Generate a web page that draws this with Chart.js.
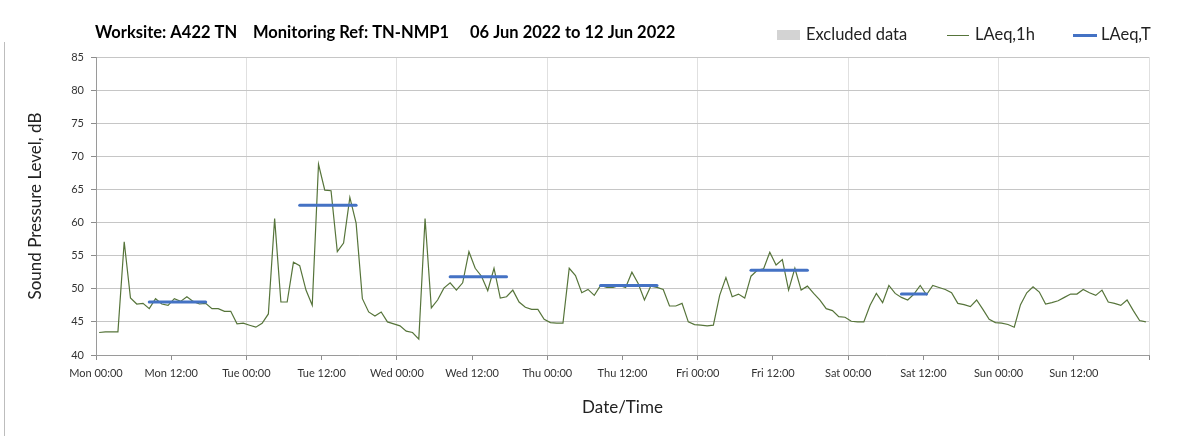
<!DOCTYPE html>
<html>
<head>
<meta charset="utf-8">
<script src="https://cdn.jsdelivr.net/npm/chart.js@4.4.1/dist/chart.umd.min.js"></script>
<style>
  html, body { margin: 0; padding: 0; background: #fff; }
  #wrap { width: 1203px; height: 436px; position: relative; }
</style>
</head>
<body>
<div id="wrap"><canvas id="noiseChart" width="1203" height="436"></canvas></div>
<script>
// Stündliche Werte LAeq,1h (dB), je Tag 24 Werte ab 00:00
const monValues = [43.4, 43.5, 43.5, 43.5, 57.1, 48.6, 47.7, 47.8, 47.0, 48.5, 47.7, 47.5, 48.5, 48.1, 48.8, 48.1, 47.7, 47.8, 47.0, 47.0, 46.6, 46.6, 44.7, 44.8];
const tueValues = [44.5, 44.2, 44.8, 46.2, 60.6, 48.0, 48.0, 54.0, 53.5, 49.8, 47.5, 68.8, 64.9, 64.8, 55.6, 56.9, 63.8, 59.9, 48.5, 46.5, 45.9, 46.5, 45.0, 44.7];
const wedValues = [44.4, 43.6, 43.4, 42.4, 60.6, 47.1, 48.3, 50.1, 50.9, 49.8, 50.9, 55.6, 53.1, 51.9, 49.7, 53.1, 48.6, 48.8, 49.8, 48.0, 47.2, 46.9, 46.9, 45.4];
const thuValues = [44.9, 44.8, 44.8, 53.1, 52.0, 49.4, 49.9, 49.0, 50.5, 50.2, 50.2, 50.5, 50.2, 52.5, 50.8, 48.3, 50.4, 50.2, 49.9, 47.4, 47.4, 47.8, 45.0, 44.6];
const friValues = [44.5, 44.4, 44.5, 49.0, 51.7, 48.8, 49.2, 48.6, 51.9, 52.8, 53.0, 55.5, 53.6, 54.4, 49.8, 53.1, 49.8, 50.4, 49.3, 48.3, 47.0, 46.7, 45.8, 45.7];
const satValues = [45.1, 45.0, 45.0, 47.5, 49.3, 47.9, 50.5, 49.3, 48.7, 48.3, 49.2, 50.5, 49.1, 50.5, 50.2, 49.9, 49.4, 47.8, 47.6, 47.3, 48.3, 46.9, 45.4, 44.9];
const sunValues = [44.8, 44.6, 44.2, 47.6, 49.4, 50.3, 49.5, 47.7, 47.9, 48.2, 48.7, 49.2, 49.2, 49.9, 49.4, 49.0, 49.8, 48.0, 47.8, 47.5, 48.3, 46.7, 45.2, 45.0];

// LAeq,T je Arbeitszeitraum: Tag (0 = Mo), erste und letzte Stunde, Pegel
const periodDays   = [0, 1, 2, 3, 4, 5];
const periodFirst  = [8, 8, 8, 8, 8, 8];
const periodLast   = [17, 17, 17, 17, 17, 12];
const periodValues = [48.0, 62.6, 51.8, 50.5, 52.8, 49.2];

// Achsenbeschriftungen
const xTickLabels = ['Mon 00:00', 'Mon 12:00', 'Tue 00:00', 'Tue 12:00', 'Wed 00:00', 'Wed 12:00', 'Thu 00:00',
  'Thu 12:00', 'Fri 00:00', 'Fri 12:00', 'Sat 00:00', 'Sat 12:00', 'Sun 00:00', 'Sun 12:00'];
const yTicks = [40, 45, 50, 55, 60, 65, 70, 75, 80, 85];

const dayValues = [monValues, tueValues, wedValues, thuValues, friValues, satValues, sunValues];

// Punkte für LAeq,1h (Stundenmitte)
const hourlyPoints = [];
dayValues.forEach((values, day) => {
  values.forEach((v, hour) => {
    hourlyPoints.push({ x: day * 24 + hour + 0.5, y: v });
  });
});

// Je Zeitraum eine waagrechte Linie
const periodSets = periodDays.map((day, i) => ({
  label: 'LAeq,T',
  data: [
    { x: day * 24 + periodFirst[i] + 0.5, y: periodValues[i] },
    { x: day * 24 + periodLast[i] + 0.5, y: periodValues[i] }
  ],
  borderColor: '#4472c4',
  borderWidth: 3,
  borderCapStyle: 'round',
  pointRadius: 0,
  order: 0
}));

const fontFamily = 'Lato, "Open Sans", sans-serif';

// Titel, Legende und Rahmen selbst zeichnen
const headerPlugin = {
  id: 'header',
  afterDraw(chart) {
    const ctx = chart.ctx;
    ctx.save();
    ctx.strokeStyle = '#bdbdbd';
    ctx.lineWidth = 1;
    ctx.beginPath();
    ctx.moveTo(4.5, 42);
    ctx.lineTo(4.5, 436);
    ctx.stroke();

    ctx.fillStyle = '#000';
    ctx.textBaseline = 'middle';
    ctx.font = 'bold 16.5px ' + fontFamily;
    ctx.fillText('Worksite: A422 TN', 95, 33);
    ctx.fillText('Monitoring Ref: TN-NMP1', 253, 33);
    ctx.fillText('06 Jun 2022 to 12 Jun 2022', 470, 33);

    ctx.font = '16.5px ' + fontFamily;
    ctx.fillStyle = '#d3d3d3';
    ctx.fillRect(777, 30, 23, 10);
    ctx.fillStyle = '#222';
    ctx.fillText('Excluded data', 806, 35);

    ctx.strokeStyle = '#56743a';
    ctx.lineWidth = 1;
    ctx.beginPath();
    ctx.moveTo(947, 35.5);
    ctx.lineTo(969, 35.5);
    ctx.stroke();
    ctx.fillText('LAeq,1h', 975, 35);

    ctx.strokeStyle = '#4472c4';
    ctx.lineWidth = 3;
    ctx.beginPath();
    ctx.moveTo(1073, 35.5);
    ctx.lineTo(1097, 35.5);
    ctx.stroke();
    ctx.fillText('LAeq,T', 1101, 35);
    ctx.restore();
  }
};

const ctx = document.getElementById('noiseChart').getContext('2d');

const config = {
  type: 'line',
  data: {
    datasets: [
      {
        label: 'LAeq,1h',
        data: hourlyPoints,
        borderColor: '#56743a',
        borderWidth: 1.2,
        pointRadius: 0,
        tension: 0,
        order: 1
      },
      ...periodSets
    ]
  },
  options: {
    responsive: false,
    animation: false,
    layout: {
      padding: { left: 0, top: 57, right: 54, bottom: 0 }
    },
    plugins: {
      legend: { display: false },
      tooltip: { enabled: false }
    },
    scales: {
      x: {
        type: 'linear',
        min: 0,
        max: 168,
        afterBuildTicks: (scale) => {
          scale.ticks = [];
          for (let v = 0; v <= 168; v += 12) scale.ticks.push({ value: v });
        },
        afterFit: (scale) => { scale.height = 81; },
        ticks: {
          autoSkip: false,
          maxRotation: 0,
          padding: 7,
          color: '#333',
          font: { family: fontFamily, size: 11 },
          callback: (value) => xTickLabels[value / 12] || ''
        },
        grid: {
          color: (c) => (c.tick && c.tick.value % 24 === 0) ? '#e0e0e0' : 'rgba(0,0,0,0)',
          tickColor: '#8c8c8c',
          tickLength: 5
        },
        border: { color: '#9a9a9a' },
        title: {
          display: true,
          text: 'Date/Time',
          color: '#222',
          font: { family: fontFamily, size: 17 },
          padding: { top: 0, bottom: 18 }
        }
      },
      y: {
        min: 40,
        max: 85,
        afterBuildTicks: (scale) => {
          scale.ticks = yTicks.map(v => ({ value: v }));
        },
        afterFit: (scale) => { scale.width = 96; },
        ticks: {
          padding: 7,
          color: '#333',
          font: { family: fontFamily, size: 11 }
        },
        grid: {
          color: '#c6c6c6',
          tickColor: '#8c8c8c',
          tickLength: 5
        },
        border: { color: '#9a9a9a' },
        title: {
          display: true,
          text: 'Sound Pressure Level, dB',
          color: '#222',
          font: { family: fontFamily, size: 17 },
          padding: { top: 25, bottom: 0 }
        }
      }
    }
  },
  plugins: [headerPlugin]
};

window.noiseChart = new Chart(ctx, config);
</script>
</body>
</html>
